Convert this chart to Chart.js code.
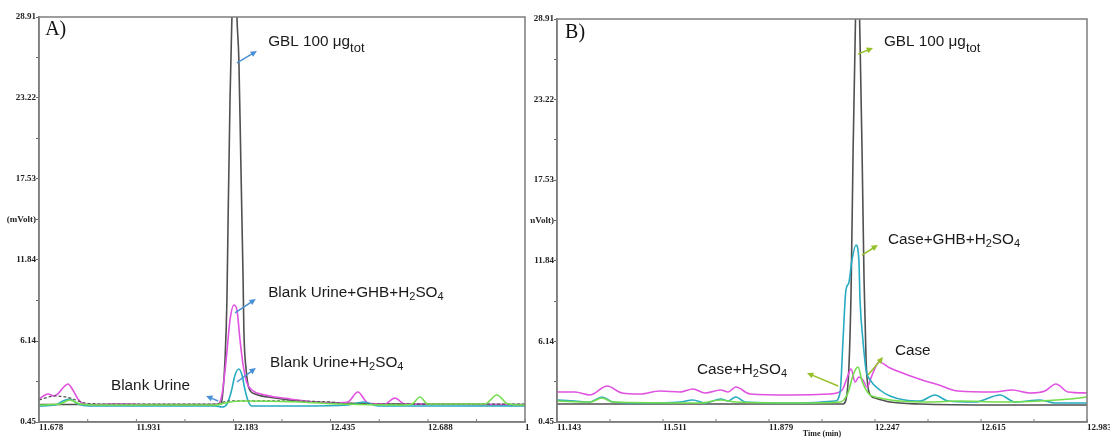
<!DOCTYPE html>
<html>
<head>
<meta charset="utf-8">
<script src="https://cdn.jsdelivr.net/npm/chart.js@4.4.1/dist/chart.umd.min.js"></script>
<style>
  html, body { margin: 0; padding: 0; background: #fff; }
  #wrap { position: relative; width: 1110px; height: 439px; overflow: hidden; }
  canvas { position: absolute; top: 0; background: #fff; }
  #chartA { left: 0; }
  #chartB { left: 530px; }
</style>
</head>
<body>
<div id="wrap">
  <canvas id="chartA" width="530" height="439"></canvas>
  <canvas id="chartB" width="580" height="439"></canvas>
</div>
<script>
// shared y axis (mVolt)
const yTicks = [0.45, 3.295, 6.14, 8.99, 11.84, 14.685, 17.53, 20.375, 23.22, 26.065, 28.91];
const yLabels = ['0.45', '', '6.14', '', '11.84', '(mVolt)', '17.53', '', '23.22', '', '28.91'];

// ---- panel A: time axis ----
const aXTicks = [11.678, 11.8045, 11.931, 12.057, 12.183, 12.309, 12.435, 12.5615, 12.688, 12.814, 12.940];
const aXLabels = ['11.678', '', '11.931', '', '12.183', '', '12.435', '', '12.688', '', '12.940'];

// GBL 100 ug tot (black)
const aTimeGBL = [11.678, 11.888, 12.143, 12.151, 12.156, 12.161, 12.166, 12.169, 12.174, 12.179, 12.186, 12.192, 12.197, 12.202, 12.205, 12.208, 12.210, 12.216, 12.223, 12.239, 12.291, 12.356, 12.460, 12.615, 12.940];
const aGBL = [1.68, 1.68, 1.68, 1.75, 2.70, 4.81, 9.02, 14.64, 23.08, 28.91, 36.0, 28.91, 25.89, 18.86, 14.64, 10.43, 6.91, 4.10, 2.84, 2.42, 2.14, 1.93, 1.79, 1.71, 1.68];

// Blank Urine+GHB+H2SO4 (magenta)
const aTimeGHB = [11.678, 11.694, 11.701, 11.717, 11.727, 11.740, 11.753, 11.766, 11.779, 11.795, 11.823, 11.862, 11.901, 11.966, 12.096, 12.143, 12.153, 12.164, 12.174, 12.184, 12.192, 12.200, 12.208, 12.218, 12.231, 12.265, 12.330, 12.434, 12.480, 12.506, 12.532, 12.576, 12.602, 12.628, 12.719, 12.940];
const aGHB = [2.07, 2.35, 2.42, 2.28, 2.42, 2.84, 3.12, 2.70, 2.07, 1.71, 1.64, 1.71, 1.71, 1.64, 1.64, 1.71, 2.35, 4.81, 7.62, 8.67, 8.32, 6.21, 4.46, 3.19, 2.70, 2.35, 2.07, 1.79, 1.86, 2.56, 1.79, 1.71, 2.14, 1.71, 1.71, 1.64];

// Blank Urine+H2SO4 (teal)
const aTimeAcid = [11.678, 11.720, 11.740, 11.758, 11.779, 11.810, 11.966, 12.135, 12.153, 12.166, 12.177, 12.187, 12.197, 12.205, 12.213, 12.221, 12.231, 12.356, 12.480, 12.520, 12.560, 12.940];
const aAcid = [1.57, 1.64, 1.93, 2.07, 1.71, 1.57, 1.57, 1.57, 1.50, 1.71, 2.56, 3.75, 4.17, 3.75, 2.70, 1.93, 1.57, 1.57, 1.64, 1.86, 1.57, 1.57];

// Blank Urine (green)
const aTimeBlank = [11.678, 11.732, 11.758, 11.784, 11.836, 12.135, 12.161, 12.200, 12.356, 12.460, 12.615, 12.647, 12.667, 12.688, 12.836, 12.867, 12.896, 12.940];
const aBlank = [1.64, 1.71, 2.00, 1.71, 1.64, 1.64, 1.79, 1.93, 1.86, 1.71, 1.64, 1.71, 2.21, 1.71, 1.71, 2.35, 1.71, 1.64];

// dashed trace near the baseline
const aTimeDash = [11.678, 11.720, 11.758, 11.797, 11.862, 12.135, 12.174, 12.252, 12.434, 12.486, 12.940];
const aDash = [2.00, 2.28, 2.14, 1.79, 1.71, 1.71, 1.93, 1.93, 1.86, 1.71, 1.71];

// ---- panel B: time axis ----
const bXTicks = [11.143, 11.327, 11.511, 11.695, 11.879, 12.063, 12.247, 12.431, 12.615, 12.799, 12.983];
const bXLabels = ['11.143', '', '11.511', '', '11.879', '', '12.247', '', '12.615', '', '12.983'];

// GBL 100 ug tot (black)
const bTimeGBL = [11.143, 11.639, 12.136, 12.146, 12.156, 12.164, 12.171, 12.178, 12.186, 12.195, 12.202, 12.209, 12.216, 12.226, 12.247, 12.299, 12.403, 12.681, 12.983];
const bGBL = [1.72, 1.72, 1.72, 2.00, 4.12, 9.77, 19.66, 27.43, 34.5, 27.43, 19.66, 10.48, 4.83, 2.57, 2.14, 1.86, 1.72, 1.65, 1.65];

// Case (magenta)
const bTimeCase = [11.143, 11.205, 11.258, 11.317, 11.369, 11.431, 11.501, 11.570, 11.615, 11.657, 11.712, 11.737, 11.764, 11.813, 11.952, 12.091, 12.133, 12.150, 12.164, 12.178, 12.191, 12.205, 12.219, 12.237, 12.261, 12.299, 12.351, 12.421, 12.469, 12.535, 12.660, 12.723, 12.785, 12.837, 12.875, 12.917, 12.983];
const bCase = [2.57, 2.57, 2.36, 2.99, 2.50, 2.43, 2.64, 2.57, 2.78, 2.50, 2.71, 2.57, 2.92, 2.43, 2.36, 2.43, 2.71, 3.56, 4.19, 3.27, 3.63, 3.42, 2.92, 3.77, 4.69, 4.26, 3.84, 3.35, 3.06, 2.64, 2.57, 2.71, 2.50, 2.64, 3.13, 2.57, 2.50];

// Case+GHB+H2SO4 (teal)
const bTimeGHB = [11.143, 11.205, 11.258, 11.299, 11.337, 11.431, 11.570, 11.615, 11.657, 11.712, 11.737, 11.764, 11.796, 11.987, 12.108, 12.126, 12.136, 12.146, 12.156, 12.167, 12.181, 12.191, 12.195, 12.205, 12.216, 12.230, 12.264, 12.299, 12.351, 12.403, 12.455, 12.500, 12.594, 12.681, 12.733, 12.820, 12.872, 12.983];
const bGHB = [2.00, 1.93, 1.86, 2.22, 1.86, 1.79, 1.86, 2.00, 1.79, 2.07, 1.93, 2.22, 1.86, 1.79, 1.93, 2.57, 6.24, 9.77, 10.27, 11.89, 12.95, 11.89, 9.07, 6.24, 4.12, 3.42, 2.71, 2.29, 2.00, 1.93, 2.36, 1.93, 1.86, 2.36, 1.86, 2.00, 1.79, 1.79];

// Case+H2SO4 (green)
const bTimeAcid = [11.143, 11.258, 11.299, 11.337, 11.639, 11.712, 11.764, 11.987, 12.126, 12.153, 12.171, 12.188, 12.202, 12.223, 12.264, 12.334, 12.438, 12.542, 12.681, 12.820, 12.924, 12.983];
const bAcid = [1.93, 1.86, 2.14, 1.86, 1.79, 2.00, 1.86, 1.79, 1.86, 2.50, 3.77, 4.33, 3.35, 2.50, 2.14, 1.93, 1.86, 1.93, 1.86, 1.93, 2.07, 2.22];

const BLACK = '#505050', MAGENTA = '#e052e0', TEAL = '#27abc0', GREEN = '#72de4c';
const SANS = '"Liberation Sans", Arial, sans-serif';
const SERIF = '"Liberation Serif", "Times New Roman", serif';

function pts(ts, vs) {
    return ts.map((t, i) => ({ x: t, y: vs[i] }));
}

function drawArrow(ctx, x1, y1, x2, y2, color) {
    const ang = Math.atan2(y2 - y1, x2 - x1), h = 7;
    ctx.strokeStyle = color;
    ctx.fillStyle = color;
    ctx.lineWidth = 1.5;
    ctx.beginPath();
    ctx.moveTo(x1, y1);
    ctx.lineTo(x2 - h * 0.6 * Math.cos(ang), y2 - h * 0.6 * Math.sin(ang));
    ctx.stroke();
    ctx.beginPath();
    ctx.moveTo(x2, y2);
    ctx.lineTo(x2 - h * Math.cos(ang - 0.45), y2 - h * Math.sin(ang - 0.45));
    ctx.lineTo(x2 - h * Math.cos(ang + 0.45), y2 - h * Math.sin(ang + 0.45));
    ctx.closePath();
    ctx.fill();
}

// parts: [text, fontSize, dy]
function drawRich(ctx, parts, x, y) {
    ctx.fillStyle = '#1a1a1a';
    ctx.textBaseline = 'middle';
    ctx.textAlign = 'left';
    parts.forEach(p => {
        ctx.font = p[1] + 'px ' + SANS;
        ctx.fillText(p[0], x, y + p[2]);
        x += ctx.measureText(p[0]).width;
    });
}

function makeNotes(notes) {
    return {
        id: 'notes',
        afterDraw(chart) {
            const ctx = chart.ctx, xs = chart.scales.x, ys = chart.scales.y, a = chart.chartArea;
            ctx.save();
            // plot frame
            ctx.strokeStyle = '#7d7d7d';
            ctx.lineWidth = 1.5;
            ctx.strokeRect(a.left, a.top, a.right - a.left, a.bottom - a.top);
            // small inward ticks on the time axis
            ctx.lineWidth = 1;
            xs.ticks.forEach(tk => {
                const px = xs.getPixelForValue(tk.value);
                ctx.beginPath();
                ctx.moveTo(px, a.bottom);
                ctx.lineTo(px, a.bottom - 3);
                ctx.stroke();
            });
            // panel letter
            ctx.fillStyle = '#111';
            ctx.font = '20px ' + SERIF;
            ctx.textBaseline = 'middle';
            ctx.fillText(notes.letter[0], xs.getPixelForValue(notes.letter[1]), ys.getPixelForValue(notes.letter[2]));
            notes.arrows.forEach(r => drawArrow(ctx,
                xs.getPixelForValue(r[0]), ys.getPixelForValue(r[1]),
                xs.getPixelForValue(r[2]), ys.getPixelForValue(r[3]), notes.color));
            notes.labels.forEach(l => drawRich(ctx, l.parts, xs.getPixelForValue(l.t), ys.getPixelForValue(l.v)));
            ctx.restore();
        }
    };
}

function makeChart(id, datasets, xMin, xMax, xTicks, xLabels, yWidth, padRight, padTop, xTitle, notes) {
    const tickFont = { family: SERIF, weight: 'bold', size: 9 };
    return new Chart(document.getElementById(id), {
        type: 'line',
        data: { datasets: datasets },
        options: {
            responsive: false,
            animation: false,
            devicePixelRatio: 1,
            layout: { padding: { left: 0, right: padRight, top: padTop, bottom: 0 } },
            plugins: { legend: { display: false }, tooltip: { enabled: false } },
            elements: {
                point: { radius: 0 },
                line: { borderWidth: 1.6, cubicInterpolationMode: 'monotone' }
            },
            scales: {
                x: {
                    type: 'linear', min: xMin, max: xMax,
                    afterBuildTicks: s => { s.ticks = xTicks.map(v => ({ value: v })); },
                    afterFit: s => { s.height = 17; s.paddingLeft = 0; s.paddingRight = 0; },
                    ticks: {
                        autoSkip: false, maxRotation: 0, minRotation: 0, align: 'start', padding: 0,
                        font: tickFont, color: '#222',
                        callback: (v, i) => xLabels[i]
                    },
                    grid: { drawOnChartArea: false, drawTicks: false },
                    border: { color: '#7d7d7d', width: 1.5 },
                    title: {
                        display: !!xTitle, text: xTitle || '', padding: 0, color: '#222',
                        font: { family: SERIF, weight: 'bold', size: 8 }
                    }
                },
                y: {
                    min: 0.45, max: 28.91,
                    afterBuildTicks: s => { s.ticks = yTicks.map(v => ({ value: v })); },
                    afterFit: s => { s.width = yWidth; },
                    ticks: {
                        autoSkip: false, padding: 0, font: tickFont, color: '#222',
                        callback: (v, i) => yLabels[i]
                    },
                    grid: { drawOnChartArea: false, tickLength: 3, color: '#666' },
                    border: { color: '#7d7d7d', width: 1.5 }
                }
            }
        },
        plugins: [makeNotes(notes)]
    });
}

const sub = (t) => [t, 11, 4];
const txt = (t) => [t, 15.3, 0];

makeChart('chartA', [
    { label: 'Blank Urine', data: pts(aTimeBlank, aBlank), borderColor: GREEN },
    { label: 'baseline', data: pts(aTimeDash, aDash), borderColor: '#555', borderDash: [3, 2], borderWidth: 1.2 },
    { label: 'Blank Urine+H2SO4', data: pts(aTimeAcid, aAcid), borderColor: TEAL },
    { label: 'Blank Urine+GHB+H2SO4', data: pts(aTimeGHB, aGHB), borderColor: MAGENTA },
    { label: 'GBL 100 ug tot', data: pts(aTimeGBL, aGBL), borderColor: BLACK }
], 11.678, 12.940, aXTicks, aXLabels, 39, 5, 17, '', {
    letter: ['A)', 11.694, 27.99],
    color: 'rgb(74,144,214)',
    arrows: [
        [12.192, 25.68, 12.244, 26.52],
        [12.187, 8.11, 12.241, 9.09],
        [12.192, 3.26, 12.241, 4.24],
        [12.143, 1.93, 12.112, 2.28]
    ],
    labels: [
        { t: 12.273, v: 27.15, parts: [txt('GBL 100 μg'), ['tot', 13, 6]] },
        { t: 12.273, v: 9.52, parts: [txt('Blank Urine+GHB+H'), sub('2'), txt('SO'), sub('4')] },
        { t: 12.278, v: 4.60, parts: [txt('Blank Urine+H'), sub('2'), txt('SO'), sub('4')] },
        { t: 11.865, v: 2.98, parts: [txt('Blank Urine')] }
    ]
});

makeChart('chartB', [
    { label: 'Case+H2SO4', data: pts(bTimeAcid, bAcid), borderColor: GREEN },
    { label: 'Case+GHB+H2SO4', data: pts(bTimeGHB, bGHB), borderColor: TEAL },
    { label: 'Case', data: pts(bTimeCase, bCase), borderColor: MAGENTA },
    { label: 'GBL 100 ug tot', data: pts(bTimeGBL, bGBL), borderColor: BLACK }
], 11.143, 12.983, bXTicks, bXLabels, 27, 23, 19, 'Time (min)', {
    letter: ['B)', 11.171, 27.92],
    color: 'rgb(150,192,40)',
    arrows: [
        [12.188, 26.44, 12.240, 26.86],
        [12.202, 12.24, 12.257, 12.95],
        [12.223, 3.77, 12.275, 5.04],
        [12.119, 2.99, 12.011, 3.91]
    ],
    labels: [
        { t: 12.278, v: 27.29, parts: [txt('GBL 100 μg'), ['tot', 13, 6]] },
        { t: 12.292, v: 13.30, parts: [txt('Case+GHB+H'), sub('2'), txt('SO'), sub('4')] },
        { t: 12.316, v: 5.46, parts: [txt('Case')] },
        { t: 11.629, v: 4.12, parts: [txt('Case+H'), sub('2'), txt('SO'), sub('4')] }
    ]
});
</script>
</body>
</html>
